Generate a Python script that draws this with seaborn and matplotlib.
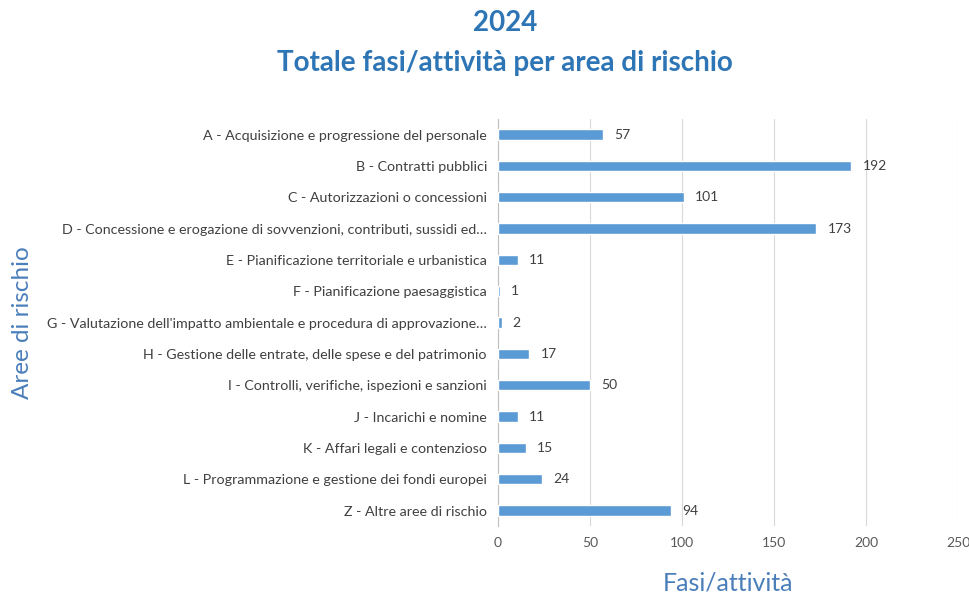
import matplotlib
matplotlib.use("Agg")
import matplotlib.pyplot as plt
import pandas as pd
import seaborn as sns

aree = [
    "A - Acquisizione e progressione del personale",
    "B - Contratti pubblici",
    "C - Autorizzazioni o concessioni",
    "D - Concessione e erogazione di sovvenzioni, contributi, sussidi ed…",
    "E - Pianificazione territoriale e urbanistica",
    "F - Pianificazione paesaggistica",
    "G - Valutazione dell'impatto ambientale e procedura di approvazione…",
    "H - Gestione delle entrate, delle spese e del patrimonio",
    "I - Controlli, verifiche, ispezioni e sanzioni",
    "J - Incarichi e nomine",
    "K - Affari legali e contenzioso",
    "L - Programmazione e gestione dei fondi europei",
    "Z - Altre aree di rischio",
]
fasi = [57, 192, 101, 173, 11, 1, 2, 17, 50, 11, 15, 24, 94]
x_ticks = [0, 50, 100, 150, 200, 250]

BAR = "#5B9BD5"
TITLE = "#2E75B6"
LABEL = "#4A7EBB"
TEXT = "#404040"

df = pd.DataFrame({"Area": aree, "Fasi": fasi})

sns.set_style("white")
plt.rcParams["font.family"] = ["Lato", "DejaVu Sans"]

fig = plt.figure(figsize=(9.7, 5.98), dpi=100)
ax = fig.add_axes([0.5134, 0.12, 0.4742, 0.681])

sns.barplot(data=df, x="Fasi", y="Area", orient="h", color=BAR,
            width=0.33, saturation=1, ax=ax, zorder=3)

for i, v in enumerate(fasi):
    ax.annotate(str(v), (v, i), xytext=(8, 0), textcoords="offset points",
                va="center", ha="left", fontsize=10, color=TEXT)

ax.set_xlim(0, 250)
ax.set_xticks(x_ticks)
ax.grid(axis="x", color="#D9D9D9", linewidth=0.8, zorder=0)
ax.tick_params(axis="x", length=0, pad=8, labelsize=10, labelcolor="#595959")
ax.tick_params(axis="y", length=0, pad=8, labelsize=10.3, labelcolor=TEXT)
for s in ["top", "right", "bottom"]:
    ax.spines[s].set_visible(False)
ax.spines["left"].set_color("#BFBFBF")

ax.set_xlabel("")
ax.set_ylabel("")
fig.text(0.751, 0.025, "Fasi/attività", ha="center", va="center",
         fontsize=18, color=LABEL)
fig.text(0.023, 0.46, "Aree di rischio", rotation=90, ha="center", va="center",
         fontsize=17.5, color=LABEL)

fig.text(0.521, 0.962, "2024", ha="center", va="center", fontsize=20,
         fontweight="bold", color=TITLE)
fig.text(0.521, 0.895, "Totale fasi/attività per area di rischio", ha="center",
         va="center", fontsize=20, fontweight="bold", color=TITLE)

fig.savefig("out.png", dpi=100)
